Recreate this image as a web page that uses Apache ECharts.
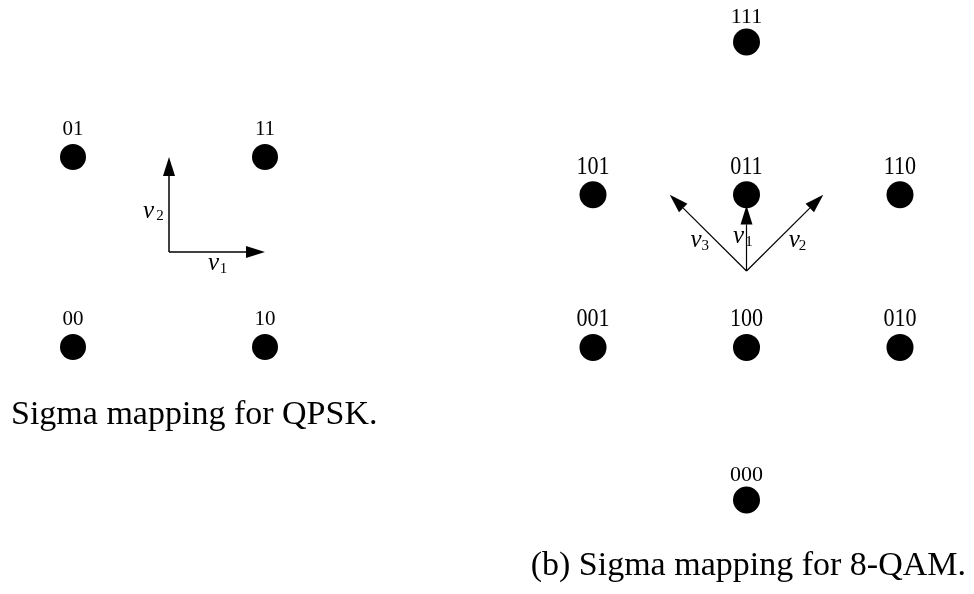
<!DOCTYPE html>
<html><head><meta charset="utf-8">
<script src="https://cdn.jsdelivr.net/npm/echarts@6/dist/echarts.min.js"></script>
<style>html,body{margin:0;padding:0;background:#fff}#c{width:974px;height:594px}</style>
</head><body><div id="c"></div>
<script>
// QPSK constellation
const qpskLabels = ['01', '11', '00', '10'];
const qpskX = [-1, 1, -1, 1];
const qpskY = [1, 1, -1, -1];
const qpskVecNames = ['1', '2'];
const qpskVecFrom = [[0, 0], [0, 0]];
const qpskVecTo = [[1, 0], [0, 1]];
// 8-QAM constellation
const qamLabels = ['111', '101', '011', '110', '001', '100', '010', '000'];
const qamX = [0, -1, 0, 1, -1, 0, 1, 0];
const qamY = [2, 1, 1, 1, 0, 0, 0, -1];
const qamVecNames = ['3', '1', '2'];
const qamVecFrom = [[0, 0.5], [0, 0.5], [0, 0.5]];
const qamVecTo = [[-0.5, 1], [0, 0.93], [0.5, 1]];
const captions = ['Sigma mapping for QPSK.', '(b) Sigma mapping for 8-QAM.'];

const SERIF = '"Liberation Serif", "Times New Roman", serif';

function pointRenderer(labels, styleFor) {
  return function (params, api) {
    const p = api.coord([api.value(0), api.value(1)]);
    const st = styleFor(api.value(1));
    return {
      type: 'group',
      children: [
        { type: 'circle', shape: { cx: p[0], cy: p[1], r: st.r }, style: { fill: '#000' } },
        { type: 'text', x: p[0], y: p[1] - st.lift, scaleX: st.sx,
          style: { text: labels[params.dataIndex], font: st.fs + 'px ' + SERIF, fill: '#000',
                   align: 'center', verticalAlign: 'middle' } }
      ]
    };
  };
}

function arrowRenderer(names, offsets, lw) {
  return function (params, api) {
    const a = api.coord([api.value(0), api.value(1)]);
    const b = api.coord([api.value(2), api.value(3)]);
    let dx = b[0] - a[0], dy = b[1] - a[1];
    const len = Math.sqrt(dx * dx + dy * dy);
    dx /= len; dy /= len;
    const L = 19, W = 6;
    const bc = [b[0] - dx * L, b[1] - dy * L];
    const nx = -dy, ny = dx;
    const mid = [(a[0] + b[0]) / 2, (a[1] + b[1]) / 2];
    const o = offsets[params.dataIndex];
    const vx = mid[0] + o[0], vy = mid[1] + o[1];
    return {
      type: 'group',
      children: [
        { type: 'line', shape: { x1: a[0], y1: a[1], x2: bc[0], y2: bc[1] }, style: { stroke: '#000', lineWidth: lw } },
        { type: 'polygon', shape: { points: [b, [bc[0] + nx * W, bc[1] + ny * W], [bc[0] - nx * W, bc[1] - ny * W]] }, style: { fill: '#000' } },
        { type: 'text', x: vx, y: vy, style: { text: 'v', font: 'italic 25px ' + SERIF, fill: '#000', align: 'center', verticalAlign: 'middle' } },
        { type: 'text', x: vx + o[2], y: vy + o[3], style: { text: names[params.dataIndex], font: '15px ' + SERIF, fill: '#000', align: 'center', verticalAlign: 'middle' } }
      ]
    };
  };
}

const chart = echarts.init(document.getElementById('c'), null, { renderer: 'canvas' });
const hiddenAxis = (min, max, idx) => ({ type: 'value', min: min, max: max, gridIndex: idx, show: false, splitLine: { show: false } });

chart.setOption({
  backgroundColor: '#fff',
  animation: false,
  grid: [
    { left: 25, top: 109.5, width: 288, height: 285 },
    { left: 531.6, top: 11.5, width: 429.8, height: 519.1 }
  ],
  xAxis: [hiddenAxis(-1.5, 1.5, 0), hiddenAxis(-1.4, 1.4, 1)],
  yAxis: [hiddenAxis(-1.5, 1.5, 0), hiddenAxis(-1.2, 2.2, 1)],
  series: [
    {
      type: 'custom', xAxisIndex: 0, yAxisIndex: 0, encode: { x: 0, y: 1 },
      data: qpskX.map((x, i) => [x, qpskY[i]]),
      renderItem: pointRenderer(qpskLabels, () => ({ r: 13, fs: 21, sx: 1, lift: 28 }))
    },
    {
      type: 'custom', xAxisIndex: 0, yAxisIndex: 0, encode: { x: [0, 2], y: [1, 3] },
      data: qpskVecFrom.map((f, i) => [f[0], f[1], qpskVecTo[i][0], qpskVecTo[i][1]]),
      renderItem: arrowRenderer(qpskVecNames, [[-3.5, 11.5, 10, 6], [-20.5, 7, 11.5, 5]], 1.5)
    },
    {
      type: 'custom', xAxisIndex: 1, yAxisIndex: 1, encode: { x: 0, y: 1 },
      data: qamX.map((x, i) => [x, qamY[i]]),
      renderItem: pointRenderer(qamLabels, (y) => (y === 0 || y === 1)
        ? { r: 13.5, fs: 26, sx: 0.85, lift: 28 }
        : { r: 13.5, fs: 22, sx: 1, lift: 25 })
    },
    {
      type: 'custom', xAxisIndex: 1, yAxisIndex: 1, encode: { x: [0, 2], y: [1, 3] },
      data: qamVecFrom.map((f, i) => [f[0], f[1], qamVecTo[i][0], qamVecTo[i][1]]),
      renderItem: arrowRenderer(qamVecNames, [[-12, 8, 9, 5], [-8, -2, 10.5, 6], [9.5, 8, 8, 5]], 1.2)
    }
  ],
  graphic: [
    { type: 'text', left: 11, top: 398, style: { text: captions[0], font: '34px ' + SERIF, fill: '#000' } },
    { type: 'text', right: 8, top: 549, style: { text: captions[1], font: '34px ' + SERIF, fill: '#000' } }
  ]
});
</script>
</body></html>
